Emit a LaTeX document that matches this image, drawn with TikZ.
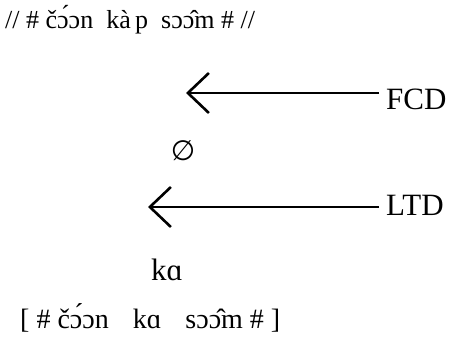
\documentclass[tikz,border=0pt]{standalone}
\usepackage{fontspec}
\setmainfont{Liberation Serif}
\newfontfamily\symfont{DejaVu Sans}
\usetikzlibrary{arrows.meta}
\tikzset{
  lbl/.style={anchor=base west, inner sep=0pt, font=\fontsize{26}{30}\selectfont},
  big/.style={lbl, font=\fontsize{31}{36}\selectfont},
  chev/.style={line width=1.5pt, -{Straight Barb[length=21pt,width=40pt,line width=2.6pt]}}
}
\begin{document}
\begin{tikzpicture}[x=1pt,y=-1pt]
\useasboundingbox (0,0) rectangle (456,344);
\node[lbl] (top) at (5,29) {// \# čɔ́ɔn\ \ kà\,p\ \ sɔɔ̂m \# //};
\node[big] (fcd) at (386,110) {FCD};
\node[big, anchor=center, font=\fontsize{28}{32}\selectfont] (null) at (183,151) {\symfont ∅};
\node[big] (ltd) at (386,216) {LTD};
\node[big] (ka) at (151,281) {kɑ};
\node[lbl, font=\fontsize{28}{32}\selectfont] (bot) at (20,329) {[ \# čɔ́ɔn\hspace{24pt}kɑ\hspace{24pt}sɔɔ̂m \# ]};
\coordinate (s1) at (379,93);
\coordinate (t1) at (186,93);
\coordinate (s2) at (379,207);
\coordinate (t2) at (148,207);
\draw[chev] (s1) -- (t1);
\draw[chev] (s2) -- (t2);
\end{tikzpicture}
\end{document}
